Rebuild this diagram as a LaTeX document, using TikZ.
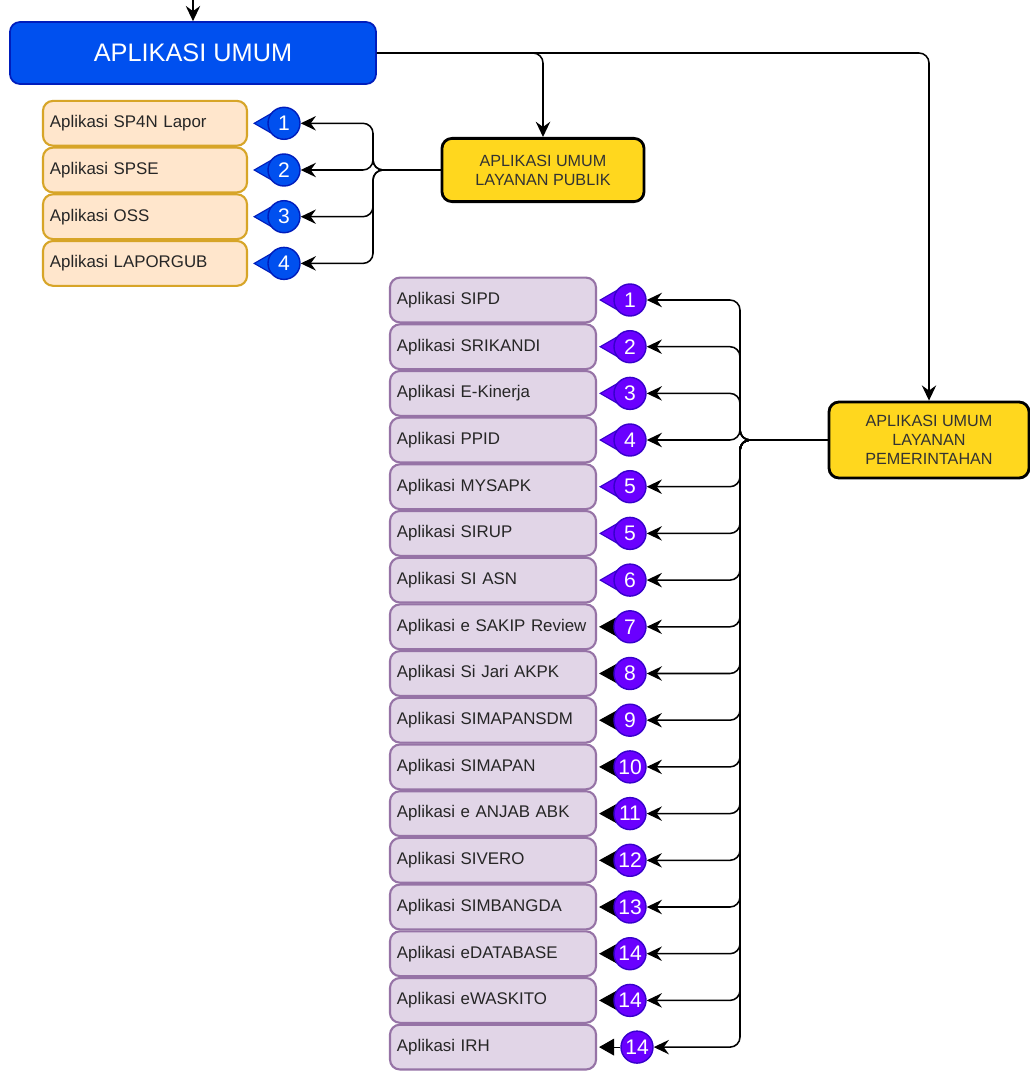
\documentclass[tikz,border=0pt]{standalone}
\usepackage{fontspec}
\setmainfont{Liberation Sans}
\usetikzlibrary{arrows.meta,positioning,backgrounds}
\definecolor{umumblue}{RGB}{0,80,239}
\definecolor{umumblueline}{RGB}{0,29,188}
\definecolor{pubfill}{RGB}{255,230,204}
\definecolor{publine}{RGB}{215,165,40}
\definecolor{govfill}{RGB}{225,213,231}
\definecolor{govline}{RGB}{150,115,166}
\definecolor{govbadge}{RGB}{106,0,255}
\definecolor{govbadgeline}{RGB}{55,0,204}
\definecolor{layanangold}{RGB}{255,215,30}

\begin{document}
\begin{tikzpicture}[
    x=0.025cm, y=-0.025cm,
    umum/.style={rectangle,rounded corners=2.5mm,draw=umumblueline,fill=umumblue,line width=1.2pt,
      minimum width=9.15cm,minimum height=1.55cm,text=white,font=\fontsize{18}{20}\selectfont},
    layanan/.style={rectangle,rounded corners=2.5mm,draw=black,fill=layanangold,line width=2pt,
      minimum height=1.58cm,align=center,text=black!80,font=\fontsize{11.5}{13.5}\selectfont},
    pubapp/.style={rectangle,rounded corners=2.5mm,draw=publine,fill=pubfill,line width=1.5pt,
      text width=4.75cm,inner xsep=1.75mm,minimum height=1.12cm,align=left,
      text=black!85,font=\fontsize{12}{14}\selectfont},
    govapp/.style={rectangle,rounded corners=2.5mm,draw=govline,fill=govfill,line width=1.5pt,
      text width=4.8cm,inner xsep=1.75mm,minimum height=1.12cm,align=left,
      text=black!85,font=\fontsize{12}{14}\selectfont},
    pubnum/.style={circle,draw=umumblueline,fill=umumblue,line width=1pt,minimum size=8mm,
      inner sep=0pt,text=white,font=\fontsize{15}{15}\selectfont},
    govnum/.style={circle,draw=govbadgeline,fill=govbadge,line width=1pt,minimum size=8mm,
      inner sep=0pt,text=white,font=\fontsize{15}{15}\selectfont},
    feed/.style={-{Stealth[length=3.8mm,width=3.6mm,inset=1.3mm]},line width=1.1pt,rounded corners=2.5mm},
    pubtail/.style={draw=umumblueline,line width=0.8pt,shorten >=1.25mm,
      -{Triangle[length=7mm,width=8mm,fill=umumblue]}},
    govtail/.style={draw=govbadgeline,line width=0.8pt,shorten >=0.5mm,
      -{Triangle[length=7mm,width=8mm,fill=govbadge]}},
    darktail/.style={draw=black,line width=0.8pt,shorten >=0.5mm,
      -{Triangle[length=5.5mm,width=6mm]}}
  ]
    \useasboundingbox (0,0) rectangle (1030,1077);

    % main box and the two groups
    \node[umum] (umum) at (193,53) {APLIKASI UMUM};
    \node[layanan,minimum width=5.05cm] (pub) at (543,170) {APLIKASI UMUM\\LAYANAN PUBLIK};
    \node[layanan,minimum width=5cm,minimum height=1.9cm] (gov) at (929,440)
      {APLIKASI UMUM\\LAYANAN\\PEMERINTAHAN};

    % layanan publik
    \node[pubapp] (sp4n) at (145,123.3) {Aplikasi SP4N Lapor};
    \node[pubapp] (spse) at (145,170) {Aplikasi SPSE};
    \node[pubapp] (oss) at (145,216.7) {Aplikasi OSS};
    \node[pubapp] (laporgub) at (145,263.4) {Aplikasi LAPORGUB};

    \node[pubnum] (bp1) at (284,123.3) {1};
    \node[pubnum] (bp2) at (284,170) {2};
    \node[pubnum] (bp3) at (284,216.7) {3};
    \node[pubnum] (bp4) at (284,263.4) {4};

    % layanan pemerintahan
    \node[govapp] (sipd) at (493,300) {Aplikasi SIPD};
    \node[govapp] (srikandi) at (493,346.7) {Aplikasi SRIKANDI};
    \node[govapp] (ekinerja) at (493,393.4) {Aplikasi E-Kinerja};
    \node[govapp] (ppid) at (493,440) {Aplikasi PPID};
    \node[govapp] (mysapk) at (493,486.7) {Aplikasi MYSAPK};
    \node[govapp] (sirup) at (493,533.4) {Aplikasi SIRUP};
    \node[govapp] (siasn) at (493,580.1) {Aplikasi SI ASN};
    \node[govapp] (sakip) at (493,626.8) {Aplikasi e SAKIP Review};
    \node[govapp] (sijari) at (493,673.5) {Aplikasi Si Jari AKPK};
    \node[govapp] (simapansdm) at (493,720.2) {Aplikasi SIMAPANSDM};
    \node[govapp] (simapan) at (493,766.9) {Aplikasi SIMAPAN};
    \node[govapp] (anjab) at (493,813.6) {Aplikasi e ANJAB ABK};
    \node[govapp] (sivero) at (493,860.3) {Aplikasi SIVERO};
    \node[govapp] (simbangda) at (493,907) {Aplikasi SIMBANGDA};
    \node[govapp] (edatabase) at (493,953.7) {Aplikasi eDATABASE};
    \node[govapp] (ewaskito) at (493,1000.4) {Aplikasi eWASKITO};
    \node[govapp] (irh) at (493,1047.1) {Aplikasi IRH};

    \node[govnum] (bg1) at (630,300) {1};
    \node[govnum] (bg2) at (630,346.7) {2};
    \node[govnum] (bg3) at (630,393.4) {3};
    \node[govnum] (bg4) at (630,440) {4};
    \node[govnum] (bg5) at (630,486.7) {5};
    \node[govnum] (bg6) at (630,533.4) {5};
    \node[govnum] (bg7) at (630,580.1) {6};
    \node[govnum] (bg8) at (630,626.8) {7};
    \node[govnum] (bg9) at (630,673.5) {8};
    \node[govnum] (bg10) at (630,720.2) {9};
    \node[govnum] (bg11) at (630,766.9) {10};
    \node[govnum] (bg12) at (630,813.6) {11};
    \node[govnum] (bg13) at (630,860.3) {12};
    \node[govnum] (bg14) at (630,907) {13};
    \node[govnum] (bg15) at (630,953.7) {14};
    \node[govnum] (bg16) at (630,1000.4) {14};
    \node[govnum] (bg17) at (637,1047.1) {14};

    % badge points, kept behind the badges
    \begin{scope}[on background layer]
      \fill[white] (0,0) rectangle (1030,1077);
      \draw[pubtail] (bp1.center) -- (sp4n.east);
      \draw[pubtail] (bp2.center) -- (spse.east);
      \draw[pubtail] (bp3.center) -- (oss.east);
      \draw[pubtail] (bp4.center) -- (laporgub.east);
      \draw[govtail] (bg1.center) -- (sipd.east);
      \draw[govtail] (bg2.center) -- (srikandi.east);
      \draw[govtail] (bg3.center) -- (ekinerja.east);
      \draw[govtail] (bg4.center) -- (ppid.east);
      \draw[govtail] (bg5.center) -- (mysapk.east);
      \draw[govtail] (bg6.center) -- (sirup.east);
      \draw[govtail] (bg7.center) -- (siasn.east);
      \draw[darktail] (bg8.center) -- (sakip.east);
      \draw[darktail] (bg9.center) -- (sijari.east);
      \draw[darktail] (bg10.center) -- (simapansdm.east);
      \draw[darktail] (bg11.center) -- (simapan.east);
      \draw[darktail] (bg12.center) -- (anjab.east);
      \draw[darktail] (bg13.center) -- (sivero.east);
      \draw[darktail] (bg14.center) -- (simbangda.east);
      \draw[darktail] (bg15.center) -- (edatabase.east);
      \draw[darktail] (bg16.center) -- (ewaskito.east);
    \end{scope}
    \draw[darktail,-{Triangle[length=3.75mm,width=4.2mm]}] (bg17.west) -- (irh.east);

    % connectors
    \coordinate (topin) at (193,-20);
    \coordinate (pubbus) at (373,170);
    \coordinate (govbus) at (740,440);
    \draw[feed] (topin) -- (umum.north);
    \draw[feed] (umum.east) -| (pub.north);
    \draw[feed] (umum.east) -| (gov.north);

    \draw[feed] (pub.west) -- (pubbus) |- (bp1.east);
    \draw[feed] (pub.west) -- (pubbus) |- (bp2.east);
    \draw[feed] (pub.west) -- (pubbus) |- (bp3.east);
    \draw[feed] (pub.west) -- (pubbus) |- (bp4.east);

    \draw[feed] (gov.west) -- (govbus) |- (bg1.east);
    \draw[feed] (gov.west) -- (govbus) |- (bg2.east);
    \draw[feed] (gov.west) -- (govbus) |- (bg3.east);
    \draw[feed] (gov.west) -- (govbus) |- (bg4.east);
    \draw[feed] (gov.west) -- (govbus) |- (bg5.east);
    \draw[feed] (gov.west) -- (govbus) |- (bg6.east);
    \draw[feed] (gov.west) -- (govbus) |- (bg7.east);
    \draw[feed] (gov.west) -- (govbus) |- (bg8.east);
    \draw[feed] (gov.west) -- (govbus) |- (bg9.east);
    \draw[feed] (gov.west) -- (govbus) |- (bg10.east);
    \draw[feed] (gov.west) -- (govbus) |- (bg11.east);
    \draw[feed] (gov.west) -- (govbus) |- (bg12.east);
    \draw[feed] (gov.west) -- (govbus) |- (bg13.east);
    \draw[feed] (gov.west) -- (govbus) |- (bg14.east);
    \draw[feed] (gov.west) -- (govbus) |- (bg15.east);
    \draw[feed] (gov.west) -- (govbus) |- (bg16.east);
    \draw[feed] (gov.west) -- (govbus) |- (bg17.east);
  \end{tikzpicture}
\end{document}
